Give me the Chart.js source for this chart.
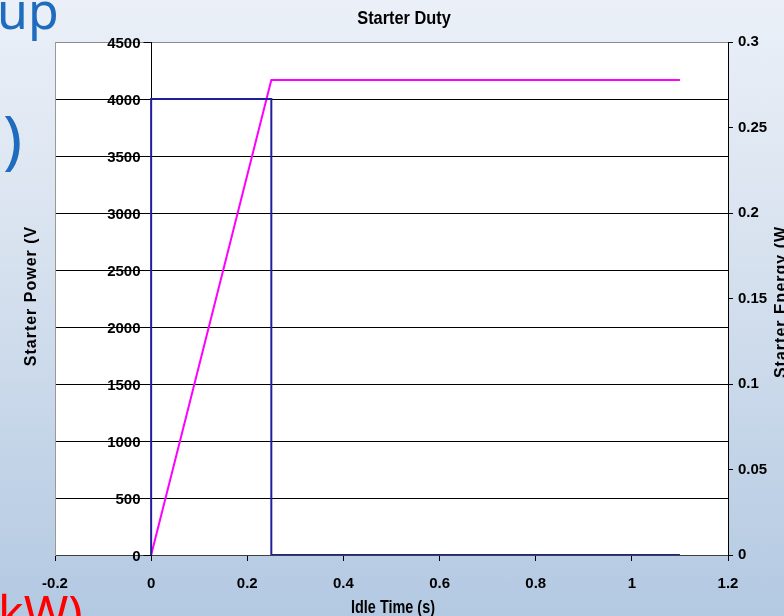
<!DOCTYPE html>
<html>
<head>
<meta charset="utf-8">
<script src="https://cdn.jsdelivr.net/npm/chart.js@4.4.1/dist/chart.umd.min.js"></script>
<style>
html, body { margin: 0; padding: 0; }
body {
    width: 784px; height: 616px; overflow: hidden;
    background: linear-gradient(to bottom, #ebf0f8 0%, #d8e2ef 40%, #b3c9e2 100%);
}
canvas { display: block; }
</style>
</head>
<body>
<canvas id="chart" width="784" height="616"></canvas>
<script>
// Starter power step (W) over idle time (s)
const powerTime = [0, 0, 0.25, 0.25, 1.1];
const powerW = [0, 4000, 4000, 0, 0];
// Cumulative starter energy (Wh)
const energyTime = [0, 0.25, 1.1];
const energyWh = [0, 0.2778, 0.2778];
// Axis ranges
const xRange = [-0.2, 1.2, 0.2];
const powerRange = [0, 4500, 500];
const energyRange = [0, 0.3, 0.05];

const tickFont = { family: '"Liberation Sans", Arial, sans-serif', size: 15, weight: 'bold' };

function fmt(v) {
    return String(Number(v.toFixed(3)));
}

// slide text behind, white plot area, left axis crossing at x = 0, titles
const decor = {
    id: 'decor',
    beforeDraw(chart) {
        const ctx = chart.ctx, a = chart.chartArea;
        ctx.save();
        ctx.font = '50px "Noto Sans", sans-serif';
        ctx.fillStyle = '#1f6cbf';
        ctx.textAlign = 'left';
        ctx.textBaseline = 'alphabetic';
        ctx.fillText('up', -3, 29);
        ctx.font = '64px "Noto Sans", sans-serif';
        ctx.fillText(')', 3, 162);
        ctx.fillStyle = '#ff0000';
        ctx.font = '48px "Noto Sans", sans-serif';
        ctx.fillText('kW)', -2, 630);
        ctx.fillStyle = '#ffffff';
        ctx.fillRect(a.left, a.top, a.right - a.left, a.bottom - a.top);
        ctx.restore();
    },
    beforeDatasetsDraw(chart) {
        const ctx = chart.ctx, a = chart.chartArea;
        const y = chart.scales.y;
        const x0 = Math.round(chart.scales.x.getPixelForValue(0)) + 0.5;
        ctx.save();
        ctx.strokeStyle = '#000';
        ctx.lineWidth = 1;
        ctx.beginPath();
        ctx.moveTo(x0, a.top);
        ctx.lineTo(x0, a.bottom);
        ctx.stroke();
        ctx.font = 'bold 15px "Liberation Sans", Arial, sans-serif';
        ctx.fillStyle = '#000';
        ctx.textAlign = 'right';
        ctx.textBaseline = 'middle';
        y.ticks.forEach(function(t) {
            const py = Math.round(y.getPixelForValue(t.value)) + 0.5;
            ctx.beginPath();
            ctx.moveTo(x0 - 8, py);
            ctx.lineTo(x0, py);
            ctx.stroke();
            ctx.fillText(fmt(t.value), x0 - 11, py + 1);
        });
        ctx.restore();
    },
    afterDraw(chart) {
        const ctx = chart.ctx;
        ctx.save();
        ctx.fillStyle = '#000';
        ctx.textAlign = 'center';
        ctx.textBaseline = 'alphabetic';
        // chart title
        ctx.save();
        ctx.translate(404, 24);
        ctx.scale(0.86, 1);
        ctx.font = 'bold 19px "Liberation Sans", Arial, sans-serif';
        ctx.fillText('Starter Duty', 0, 0);
        ctx.restore();
        // x title
        ctx.save();
        ctx.translate(393, 613);
        ctx.scale(0.76, 1);
        ctx.font = 'bold 19px "Liberation Sans", Arial, sans-serif';
        ctx.fillText('Idle Time (s)', 0, 0);
        ctx.restore();
        // y titles
        ctx.font = 'bold 16px "Liberation Sans", Arial, sans-serif';
        ctx.letterSpacing = '1px';
        ctx.save();
        ctx.translate(36, 296);
        ctx.rotate(-Math.PI / 2);
        ctx.fillText('Starter Power (V', 0, 0);
        ctx.restore();
        ctx.save();
        ctx.translate(786, 302);
        ctx.rotate(-Math.PI / 2);
        ctx.fillText('Starter Energy (W', 0, 0);
        ctx.restore();
        ctx.restore();
    }
};

new Chart(document.getElementById('chart'), {
    type: 'scatter',
    data: {
        datasets: [{
            label: 'Starter Power',
            data: powerTime.map((t, i) => ({ x: t, y: powerW[i] })),
            yAxisID: 'y',
            showLine: true,
            borderColor: '#1f1f9c',
            borderWidth: 2,
            pointRadius: 0,
            tension: 0
        }, {
            label: 'Starter Energy',
            data: energyTime.map((t, i) => ({ x: t, y: energyWh[i] })),
            yAxisID: 'y1',
            showLine: true,
            borderColor: '#ff00ff',
            borderWidth: 2,
            pointRadius: 0,
            tension: 0
        }]
    },
    options: {
        responsive: false,
        animation: false,
        devicePixelRatio: 1,
        layout: { padding: { top: 42, left: 0, right: 0, bottom: 0 } },
        plugins: {
            legend: { display: false },
            tooltip: { enabled: false }
        },
        scales: {
            x: {
                type: 'linear',
                min: xRange[0], max: xRange[1],
                afterFit: s => { s.height = 61; },
                ticks: { stepSize: xRange[2], color: '#000', font: tickFont, padding: 14, callback: v => fmt(v) },
                grid: { drawOnChartArea: false, drawTicks: true, tickLength: 6, color: '#000' },
                border: { color: '#404040', width: 1 }
            },
            y: {
                position: 'left',
                min: powerRange[0], max: powerRange[1],
                afterFit: s => { s.width = 55; },
                ticks: { stepSize: powerRange[2], display: false },
                grid: {
                    drawTicks: false, tickLength: 0,
                    color: c => (c.tick && c.tick.value === powerRange[1]) ? '#8a8a8a' : '#000'
                },
                border: { color: '#999', width: 1 }
            },
            y1: {
                position: 'right',
                min: energyRange[0], max: energyRange[1],
                afterFit: s => { s.width = 56; },
                ticks: { stepSize: energyRange[2], color: '#000', font: tickFont, padding: 5, callback: v => fmt(v) },
                grid: { drawOnChartArea: false, tickLength: 5, color: '#000' },
                border: { color: '#000', width: 1 }
            }
        }
    },
    plugins: [decor]
});
</script>
</body>
</html>
